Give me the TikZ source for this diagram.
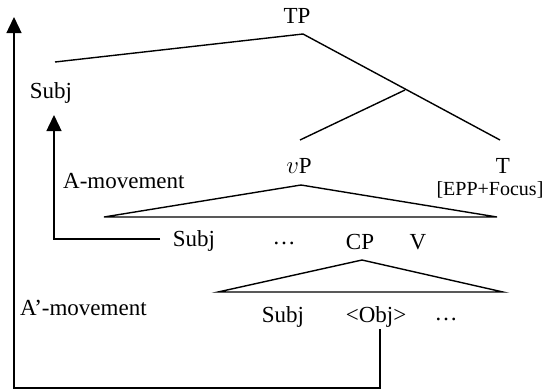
\documentclass[tikz,border=0pt]{standalone}
\usepackage{fontspec}
\setmainfont{Liberation Serif}
\usetikzlibrary{arrows.meta}
\begin{document}
\begin{tikzpicture}[x=1pt,y=-1pt,
  lbl/.style={inner sep=0pt,font=\fontsize{23}{26}\selectfont},
  small/.style={inner sep=0pt,font=\fontsize{20}{22}\selectfont},
  edge/.style={line width=1.4pt},
  arr/.style={line width=1.4pt,-{Triangle[width=15pt,length=16pt]}}]
\useasboundingbox (0,0) rectangle (556,389);
% labels
\node[lbl] (TP) at (297,16) {TP};
\node[lbl] (Subj1) at (51,93) {Subj};
\node[lbl] (vP) at (299,166) {$v$P};
\node[lbl] (T) at (503,166) {T};
\node[small] (EPP) at (490,190) {[EPP+Focus]};
\node[lbl] (Subj2) at (194,241) {Subj};
\node[lbl] (dots1) at (284,243) {\dots};
\node[lbl] (CP) at (360,242) {CP};
\node[lbl] (V) at (418,242) {V};
\node[lbl] (Subj3) at (283,317) {Subj};
\node[lbl] (Obj) at (376,317) {<Obj>};
\node[lbl] (dots2) at (446,319) {\dots};
\node[lbl,anchor=west] (Amov) at (63,181) {A-movement};
\node[lbl,anchor=west] (Apmov) at (20,308) {A'-movement};
% tree coordinates
\coordinate (tp) at (303,34);
\coordinate (subjtop) at (55,62);
\coordinate (mid) at (405,90);
\coordinate (vpend) at (300,140);
\coordinate (tend) at (500,140);
\coordinate (vpapex) at (301,185);
\coordinate (vpl) at (104,217);
\coordinate (vpr) at (497,217);
\coordinate (cpapex) at (362,260);
\coordinate (cpl) at (218,292);
\coordinate (cpr) at (503,292);
% movement coordinates
\coordinate (s2foot) at (160,239);
\coordinate (acorner) at (54,239);
\coordinate (atip) at (54,115);
\coordinate (objfoot) at (380,329);
\coordinate (bcorner) at (380,388);
\coordinate (ocorner) at (14,388);
\coordinate (otip) at (14,17);
% tree
\draw[edge] (subjtop) -- (tp) -- (tend);
\draw[edge] (mid) -- (vpend);
\draw[edge] (vpl) -- (vpapex) -- (vpr) -- cycle;
\draw[edge] (cpl) -- (cpapex) -- (cpr) -- cycle;
% movement arrows
\draw[arr] (s2foot) -- (acorner) -- (atip);
\draw[arr] (objfoot) -- (bcorner) -- (ocorner) -- (otip);
\end{tikzpicture}
\end{document}
